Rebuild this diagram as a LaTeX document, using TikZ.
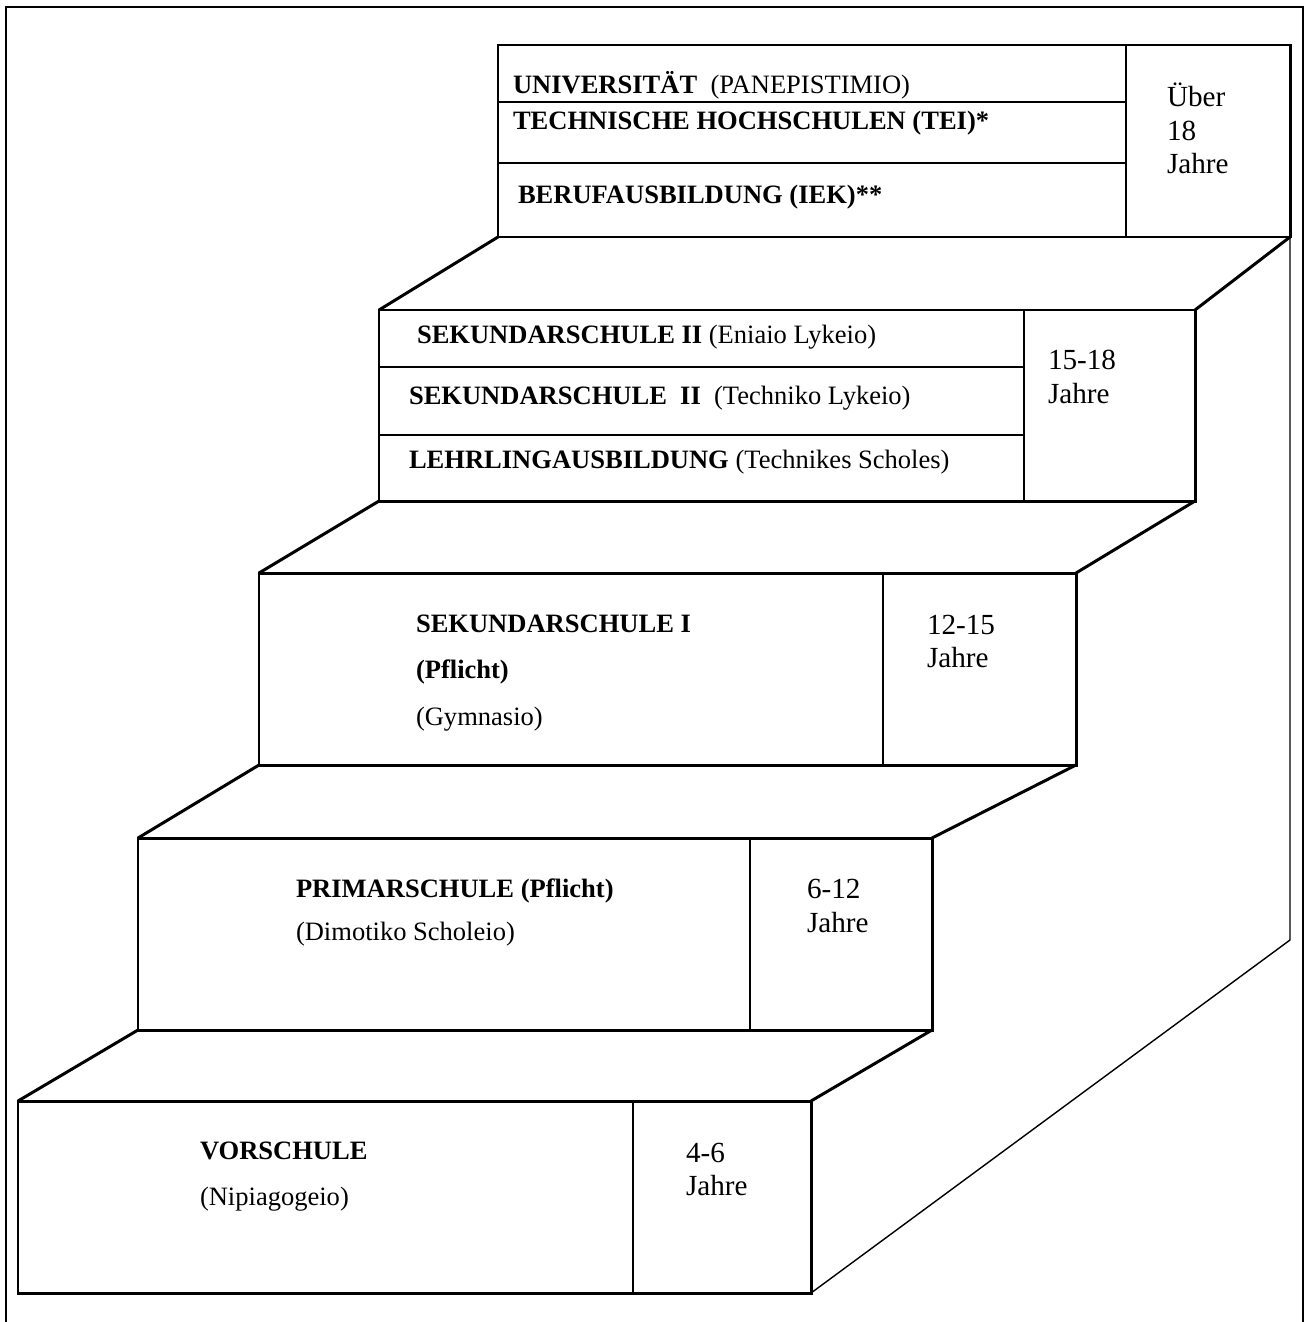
\documentclass[tikz,border=0pt]{standalone}
\usepackage{fontspec}
\setmainfont{Liberation Serif}
\begin{document}
\begin{tikzpicture}[x=0.02cm,y=-0.02cm,
  boxline/.style={line width=1.7pt,line join=miter},
  divline/.style={line width=0.8pt},
  frameline/.style={line width=0.8pt},
  txt/.style={anchor=base west,inner sep=0pt,outer sep=0pt,font=\fontsize{15.1}{18}\selectfont},
  agetxt/.style={txt,font=\fontsize{16.6}{19}\selectfont}]
\useasboundingbox (0,0) rectangle (1306,1322);
% frame
\draw[frameline] (6,1322) -- (6,7) -- (1303,7) -- (1303,1322);
% box corners
\coordinate (b1nw) at (498,45);  \coordinate (b1se) at (1290,237);
\coordinate (b2nw) at (379,310); \coordinate (b2se) at (1195,501);
\coordinate (b3nw) at (259,573); \coordinate (b3se) at (1076,765);
\coordinate (b4nw) at (138,838); \coordinate (b4se) at (932,1030);
\coordinate (b5nw) at (18,1101); \coordinate (b5se) at (811,1293);
\coordinate (rbend) at (1290,940);
% side wall (thin)
\draw[divline] (b1se) -- (rbend) -- (b5se);
% dividers
\draw[divline] (1126,45) -- (1126,237);
\draw[divline] (498,102) -- (1126,102);
\draw[divline] (498,163) -- (1126,163);
\draw[divline] (1024,310) -- (1024,501);
\draw[divline] (379,367) -- (1024,367);
\draw[divline] (379,435) -- (1024,435);
\draw[divline] (883,573) -- (883,765);
\draw[divline] (750,838) -- (750,1030);
\draw[divline] (633,1101) -- (633,1293);
% boxes
\foreach \b in {b1,b2,b3,b4,b5}{\draw[boxline] (\b nw) rectangle (\b se);}
% treads
\draw[boxline] (b2nw) -- (b1nw |- b1se);
\draw[boxline] (b2se |- b2nw) -- (b1se);
\draw[boxline] (b3nw) -- (b2nw |- b2se);
\draw[boxline] (b3se |- b3nw) -- (b2se);
\draw[boxline] (b4nw) -- (b3nw |- b3se);
\draw[boxline] (b4se |- b4nw) -- (b3se);
\draw[boxline] (b5nw) -- (b4nw |- b4se);
\draw[boxline] (b5se |- b5nw) -- (b4se);
% texts box 1
\node[txt] (t1a) at (513,93) {\textbf{UNIVERSITÄT}\ \ (PANEPISTIMIO)};
\node[txt] (t1b) at (513,129) {\textbf{TECHNISCHE HOCHSCHULEN (TEI)*}};
\node[txt] (t1c) at (518,203) {\textbf{BERUFAUSBILDUNG (IEK)**}};
\node[agetxt] (a1a) at (1167,106) {Über};
\node[agetxt] (a1b) at (1167,140) {18};
\node[agetxt] (a1c) at (1167,173) {Jahre};
% box 2
\node[txt] (t2a) at (417,343) {\textbf{SEKUNDARSCHULE II} (Eniaio Lykeio)};
\node[txt] (t2b) at (409,404) {\textbf{SEKUNDARSCHULE\ \ II}\ \ (Techniko Lykeio)};
\node[txt] (t2c) at (409,468) {\textbf{LEHRLINGAUSBILDUNG} (Technikes Scholes)};
\node[agetxt] (a2a) at (1048,369) {15-18};
\node[agetxt] (a2b) at (1048,403) {Jahre};
% box 3
\node[txt] (t3a) at (416,632) {\textbf{SEKUNDARSCHULE I}};
\node[txt] (t3b) at (416,678) {\textbf{(Pflicht)}};
\node[txt] (t3c) at (416,725) {(Gymnasio)};
\node[agetxt] (a3a) at (927,634) {12-15};
\node[agetxt] (a3b) at (927,667) {Jahre};
% box 4
\node[txt] (t4a) at (296,897) {\textbf{PRIMARSCHULE (Pflicht)}};
\node[txt] (t4b) at (296,940) {(Dimotiko Scholeio)};
\node[agetxt] (a4a) at (807,898) {6-12};
\node[agetxt] (a4b) at (807,932) {Jahre};
% box 5
\node[txt] (t5a) at (200,1159) {\textbf{VORSCHULE}};
\node[txt] (t5b) at (200,1205) {(Nipiagogeio)};
\node[agetxt] (a5a) at (686,1162) {4-6};
\node[agetxt] (a5b) at (686,1195) {Jahre};
\end{tikzpicture}
\end{document}
